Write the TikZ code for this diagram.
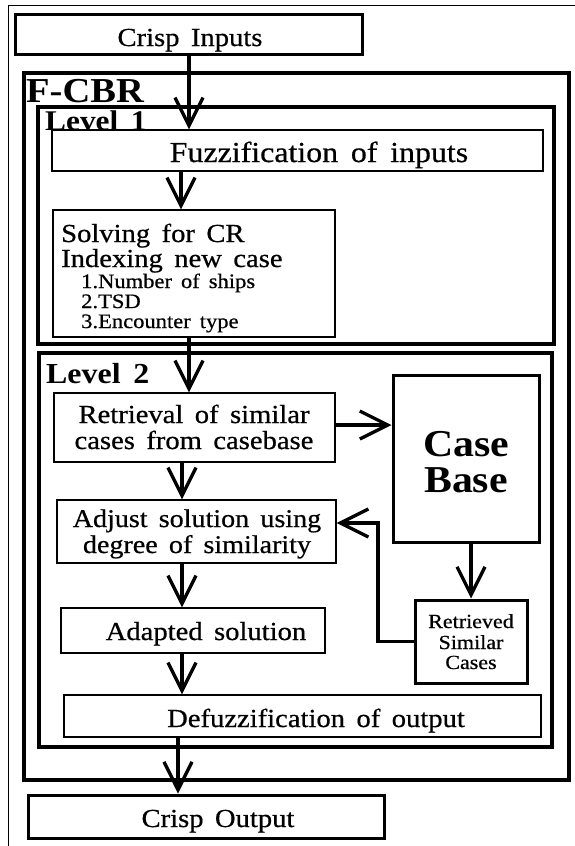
\documentclass[tikz,border=0pt]{standalone}
\usepackage{fontspec}
\setmainfont{Liberation Serif}[FakeStretch=1.1,WordSpace=1.6,Ligatures=NoCommon,UprightFeatures={FakeBold=0.6}]
\usetikzlibrary{arrows.meta}
\newcommand\setfs[1]{\fontsize{#1}{#1}\selectfont}
\newcommand\mkbox[6]{\node[#2, inner sep=0pt, minimum width={(#5-#3)*1pt}, minimum height={(#6-#4)*1pt}] (#1) at ({(#3+#5)/2},{(#4+#6)/2}) {};}
\tikzset{
  outerline/.style={draw, line width=1pt},
  frame/.style={draw, line width=3.8pt},
  framelv/.style={draw, line width=3.4pt},
  thinbox/.style={draw, line width=1.4pt, fill=white},
  thickbox/.style={draw, line width=3pt, fill=white},
  arr/.style={line width=3.3pt, -{Straight Barb[length=28pt,width=28pt]}},
  txt/.style={inner sep=0pt, anchor=base},
  txtl/.style={inner sep=0pt, anchor=base west},
  lbl/.style={inner sep=0pt, anchor=base west, font=\bfseries},
}
\begin{document}
\begin{tikzpicture}[x=1pt,y=-1pt]
\useasboundingbox (0,0) rectangle (575,846);
\coordinate (x189) at (189,0);
\coordinate (x181) at (181,0);
\coordinate (x182) at (182,0);
\coordinate (x178) at (178,0);
\coordinate (fbtop) at (378,523);
\coordinate (ycb) at (0,425);

% outer frame
\draw[outerline] (8,846) |- (575,5);

% frames
\mkbox{fcbr}{frame}{24}{73}{569}{780}
\mkbox{lvone}{framelv}{38}{107}{554}{344}
\mkbox{lvtwo}{framelv}{39}{353}{552}{747}
\node[lbl] (tfcbr) at (26,102) {\setfs{35}F-CBR};
\node[lbl] (tlv1) at (45,130) {\setfs{28.5}Level 1};
\node[lbl] (tlv2) at (46,383) {\setfs{29}Level 2};

% boxes
\mkbox{ci}{thickbox}{15}{14}{362}{54}
\mkbox{fz}{thinbox}{52}{130}{543}{171}
\mkbox{sv}{thinbox}{53}{210}{335}{337}
\mkbox{rt}{thinbox}{54}{393}{335}{462}
\mkbox{cb}{thickbox}{393}{375}{539}{542}
\mkbox{adj}{thinbox}{57}{500}{336}{563}
\mkbox{rs}{thickbox}{415}{600}{527}{683}
\mkbox{ad}{thinbox}{61}{608}{325}{653}
\mkbox{dz}{thinbox}{64}{695}{541}{737}
\mkbox{co}{thickbox}{28}{795}{384}{838}

% texts
\node[txt] (tci) at (190,46) {\setfs{26}Crisp Inputs};
\node[txt] (tfz) at (319,162) {\setfs{29}Fuzzification of inputs};
\node[txtl] (tsv1) at (61,242) {\setfs{26}Solving for CR};
\node[txtl] (tsv2) at (61,267) {\setfs{26}Indexing new case};
\node[txtl] (tsv3) at (81,288) {\setfs{20.5}1.Number of ships};
\node[txtl] (tsv4) at (81,308) {\setfs{20.5}2.TSD};
\node[txtl] (tsv5) at (81,328) {\setfs{20.5}3.Encounter type};
\node[txt] (trt1) at (194,423) {\setfs{26}Retrieval of similar};
\node[txt] (trt2) at (194,449) {\setfs{26}cases from casebase};
\node[txt, font=\bfseries] (tcb1) at (466,456) {\setfs{38}Case};
\node[txt, font=\bfseries] (tcb2) at (466,492) {\setfs{38}Base};
\node[txt] (tadj1) at (197,527) {\setfs{25.5}Adjust solution using};
\node[txt] (tadj2) at (197,553) {\setfs{25.5}degree of similarity};
\node[txt] (trs1) at (471,628) {\setfs{20}Retrieved};
\node[txt] (trs2) at (471,649) {\setfs{20}Similar};
\node[txt] (trs3) at (471,669) {\setfs{20}Cases};
\node[txt] (tad) at (206,640) {\setfs{26}Adapted solution};
\node[txt] (tdz) at (316,727) {\setfs{26}Defuzzification of output};
\node[txt] (tco) at (218,827) {\setfs{26}Crisp Output};

% connectors
\draw[arr] (ci.south -| x189) -- (fz.north -| x189);
\draw[arr] (fz.south -| x181) -- (sv.north -| x181);
\draw[arr] (sv.south -| x189) -- (rt.north -| x189);
\draw[arr] (rt.east |- ycb) -- (cb.west |- ycb);
\draw[arr] (rt.south -| x182) -- (adj.north -| x182);
\draw[arr] (cb.south -| rs.north) -- (rs.north);
\draw[arr] (rs.west) -| (fbtop) -- (fbtop -| adj.east);
\draw[arr] (adj.south -| x182) -- (ad.north -| x182);
\draw[arr] (ad.south -| x182) -- (dz.north -| x182);
\draw[arr] (dz.south -| x178) -- (co.north -| x178);
\end{tikzpicture}
\end{document}
